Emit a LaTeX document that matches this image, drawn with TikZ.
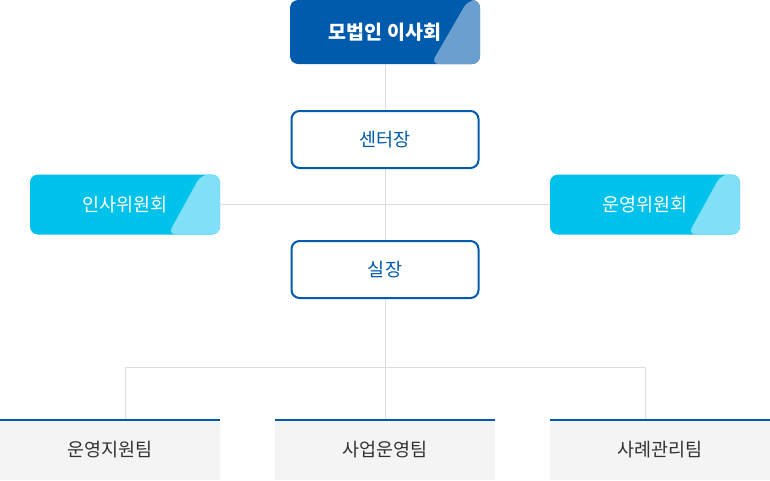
\documentclass[tikz,border=0pt]{standalone}
\usepackage{fontspec}
\setmainfont{Noto Sans CJK KR}
\usetikzlibrary{calc}
\definecolor{dblue}{HTML}{005BAC}
\definecolor{dbluel}{HTML}{6A9FD0}
\definecolor{cyanb}{HTML}{00C2EA}
\definecolor{cyanl}{HTML}{80E0F8}
\definecolor{linec}{HTML}{DDDDDD}
\definecolor{teambg}{HTML}{F4F4F4}
\definecolor{txtc}{HTML}{333333}
\begin{document}
\begin{tikzpicture}[x=1pt,y=-1pt,
  tribox/.style n args={4}{rectangle, rounded corners=8pt, minimum width=190pt, minimum height=60pt,
    fill=#1, text=white, inner sep=0pt,
    path picture={\fill[#2] ($(path picture bounding box.north east)+(-#3,0)$) -- ($(path picture bounding box.south east)+(-#4,0)$) -- (path picture bounding box.south east) -- (path picture bounding box.north east) -- cycle;}},
  wbox/.style={rectangle, rounded corners=8pt, minimum width=187pt, minimum height=57pt, draw=dblue, line width=2pt, fill=white, text=dblue, font=\fontsize{18.5}{21}\selectfont},
  team/.style={rectangle, minimum width=220pt, minimum height=60pt, fill=teambg, text=txtc, inner sep=0pt, font=\fontsize{18.5}{21}\selectfont},
  conn/.style={draw=linec, line width=1pt}
]
\useasboundingbox (0,0) rectangle (770,480);
\coordinate (jl) at (125,367);
\coordinate (jr) at (645,367);
\node[tribox={dblue}{dbluel}{12pt}{49pt}, minimum height=64pt, font=\bfseries\fontsize{19.5}{22}\selectfont] (top) at (385,32) {모법인 이사회};
\node[tribox={cyanb}{cyanl}{19pt}{52pt}, font=\fontsize{18.5}{21}\selectfont] (left) at (125,204.5) {인사위원회};
\node[tribox={cyanb}{cyanl}{19pt}{52pt}, font=\fontsize{18.5}{21}\selectfont] (right) at (645,204.5) {운영위원회};
\node[team] (t1) at (110,450) {운영지원팀};
\node[team] (t2) at (385,450) {사업운영팀};
\node[team] (t3) at (660,450) {사례관리팀};
\draw[conn] (top.south) -- (t2.north);
\draw[conn] (left.east) -- (right.west);
\draw[conn] (jl) -- (jr);
\draw[conn] (jl) -- (jl |- t1.north);
\draw[conn] (jr) -- (jr |- t3.north);
\node[wbox] (ctr) at (385,139.5) {센터장};
\node[wbox] (sil) at (385,269.5) {실장};
\foreach \t in {t1,t2,t3}{
  \draw[dblue, line width=2pt] (\t.north west) -- (\t.north east);
}
\end{tikzpicture}
\end{document}
